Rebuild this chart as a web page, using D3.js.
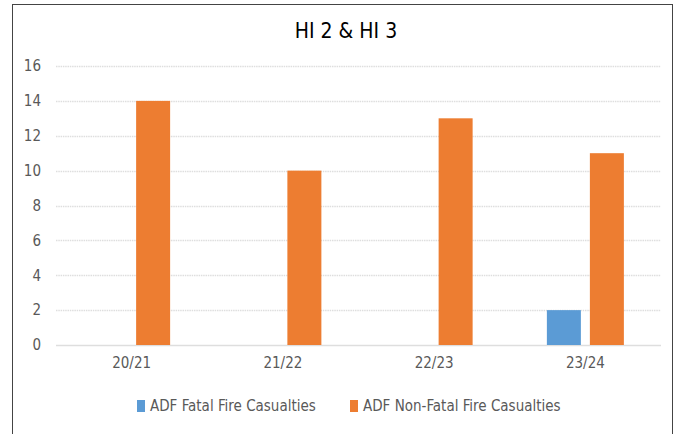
<!DOCTYPE html>
<html>
<head>
<meta charset="utf-8">
<script src="https://cdn.jsdelivr.net/npm/d3@7"></script>
<style>
  body { margin: 0; background: #fff; }
  text { font-family: "DejaVu Sans Condensed", "Liberation Sans", sans-serif; }
</style>
</head>
<body>
<svg width="683" height="434"></svg>
<script>
var categories = ["20/21", "21/22", "22/23", "23/24"];
var seriesNames = ["ADF Fatal Fire Casualties", "ADF Non-Fatal Fire Casualties"];
var fatal = [0, 0, 0, 2];
var nonFatal = [14, 10, 13, 11];
var yTicks = [0, 2, 4, 6, 8, 10, 12, 14, 16];
var colors = ["#5b9bd5", "#ed7d31"];

var svg = d3.select("svg");

// outer frame
svg.append("rect")
  .attr("x", 12.5).attr("y", 4.5)
  .attr("width", 660).attr("height", 440)
  .attr("fill", "#fff").attr("stroke", "#444").attr("stroke-width", 1);

svg.append("text")
  .attr("x", 346).attr("y", 38)
  .attr("text-anchor", "middle")
  .attr("font-size", 21)
  .attr("fill", "#000")
  .text("HI 2 & HI 3");

var x = d3.scaleBand().domain(categories).range([56, 661]);
var y = d3.scaleLinear().domain([0, 16]).range([345, 66]);

// gridlines
svg.append("g").selectAll("line")
  .data(yTicks)
  .enter().append("line")
  .attr("x1", 56).attr("x2", 661)
  .attr("y1", function(d) { return Math.round(y(d)) + 0.5; })
  .attr("y2", function(d) { return Math.round(y(d)) + 0.5; })
  .attr("stroke", "#dedede")
  .attr("stroke-width", 1.3)
  .attr("stroke-dasharray", function(d) { return d === 0 ? null : "1.5,0.8"; });

var yAxis = svg.append("g")
  .attr("transform", "translate(41,0)")
  .call(d3.axisLeft(y).tickValues(yTicks).tickSize(0).tickPadding(0));
yAxis.select(".domain").remove();
yAxis.selectAll("text").attr("font-size", 15).attr("fill", "#595959")
  .style("font-family", "'DejaVu Sans Condensed',sans-serif");

var xAxis = svg.append("g")
  .attr("transform", "translate(0,345)")
  .call(d3.axisBottom(x).tickSize(0).tickPadding(12));
xAxis.select(".domain").remove();
xAxis.selectAll("text").attr("font-size", 15).attr("fill", "#595959")
  .style("font-family", "'DejaVu Sans Condensed',sans-serif");

var barW = 34, gap = 9;
var rows = categories.map(function(c, i) {
  return [{cat: c, s: 0, v: fatal[i]}, {cat: c, s: 1, v: nonFatal[i]}];
});
var flat = [].concat.apply([], rows).filter(function(d) { return d.v > 0; });

svg.append("g").selectAll("rect")
  .data(flat)
  .enter().append("rect")
  .attr("x", function(d) {
    var c = x(d.cat) + x.bandwidth() / 2;
    return d.s === 0 ? c - gap / 2 - barW : c + gap / 2;
  })
  .attr("y", function(d) { return y(d.v); })
  .attr("width", barW)
  .attr("height", function(d) { return y(0) - y(d.v); })
  .attr("fill", function(d) { return colors[d.s]; });

// legend
var legendX = [137, 350];
var lg = svg.append("g").selectAll("g")
  .data(seriesNames)
  .enter().append("g")
  .attr("transform", function(d, i) { return "translate(" + legendX[i] + ",400)"; });
lg.append("rect").attr("width", 8).attr("height", 12)
  .attr("fill", function(d, i) { return colors[i]; });
lg.append("text").attr("x", 13).attr("y", 11)
  .attr("font-size", 15).attr("fill", "#595959")
  .text(function(d) { return d; });
</script>
</body>
</html>
